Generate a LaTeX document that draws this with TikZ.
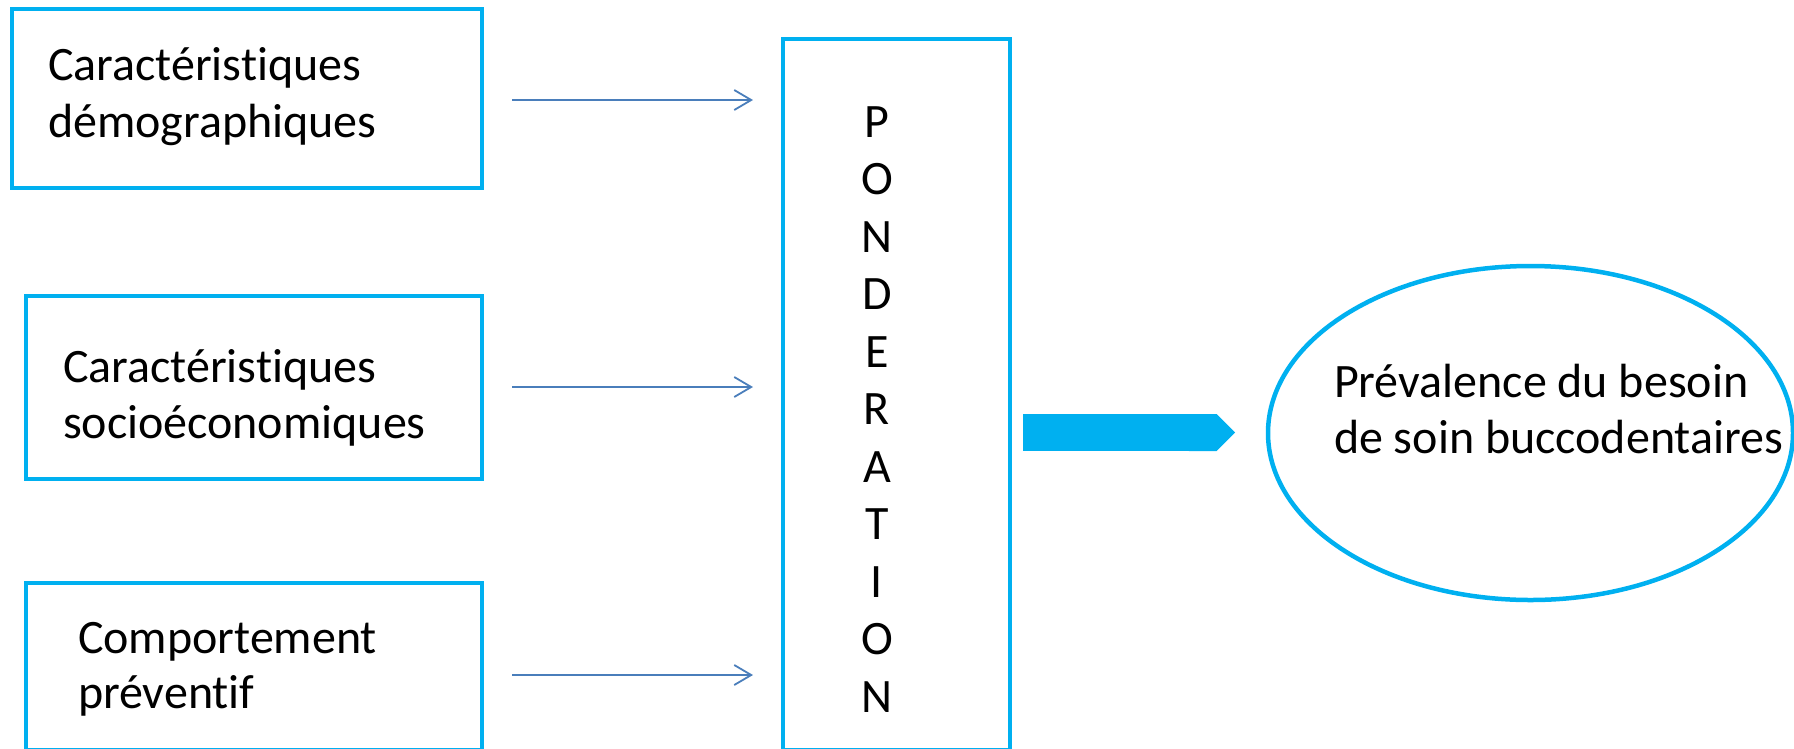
\documentclass[tikz,border=0pt]{standalone}
\usepackage{fontspec}
\setmainfont{Carlito}[Ligatures={NoCommon,NoRare}]
\usetikzlibrary{arrows.meta,shapes.geometric,calc}
\definecolor{boxblue}{HTML}{00B0F0}
\definecolor{linkblue}{HTML}{4A7EBB}
\begin{document}
\begin{tikzpicture}[x=1pt,y=-1pt,
  frame/.style={draw=boxblue, line width=4.5pt, rectangle, inner sep=0pt, outer sep=0pt},
  txt/.style={anchor=base west, inner sep=0pt, outer sep=0pt, font=\fontsize{48}{57}\selectfont},
  link/.style={draw=linkblue, line width=1.8pt, -{Straight Barb[length=17pt,width=20pt]},
               shorten <=30pt, shorten >=30pt},
  bigarrow/.style={draw=boxblue, line width=37pt, -{Triangle Cap[]}}
]
\useasboundingbox (0,0) rectangle (1794,748);
\clip (0,0) rectangle (1794,748);

% input boxes
\node[frame, minimum width=470pt, minimum height=179pt] (demo) at (247,98.5) {};
\node[frame, minimum width=456pt, minimum height=183pt] (socio) at (254,387.5) {};
\node[frame, minimum width=456pt, minimum height=167pt] (comport) at (254,666.5) {};

% weighting column
\node[frame, minimum width=227pt, minimum height=711pt] (pond) at (896.5,394.5) {};

% outcome
\node[draw=boxblue, line width=4.5pt, ellipse, inner sep=0pt, outer sep=0pt,
      minimum width=525pt, minimum height=334pt] (prev) at (1530.5,433) {};

% texts
\node[txt] (demo1) at (48,80) {Caractéristiques};
\node[txt] (demo2) at (48,137) {démographiques};
\node[txt] (socio1) at (63,382) {Caractéristiques};
\node[txt] (socio2) at (63,438) {socioéconomiques};
\node[txt] (comp1) at (78,653) {Comportement};
\node[txt] (comp2) at (78,708) {préventif};
\node[txt] (prev1) at (1334,397) {Prévalence du besoin};
\node[txt] (prev2) at (1334,453) {de soin buccodentaires};
\foreach \ch [count=\i from 0] in {P,O,N,D,E,R,A,T,I,O,N}
  \node[txt, anchor=base] (letter\i) at (877,137+57.5*\i) {\ch};

% connectors
\draw[link] (demo.east |- 0,100) -- (pond.west |- 0,100);
\draw[link] (socio.east |- 0,387) -- (pond.west |- 0,387);
\draw[link] (comport.east |- 0,675) -- (pond.west |- 0,675);
\draw[bigarrow, shorten <=13pt, shorten >=33pt] (pond.east |- 0,432.5) -- (prev.west |- 0,432.5);
\end{tikzpicture}
\end{document}
